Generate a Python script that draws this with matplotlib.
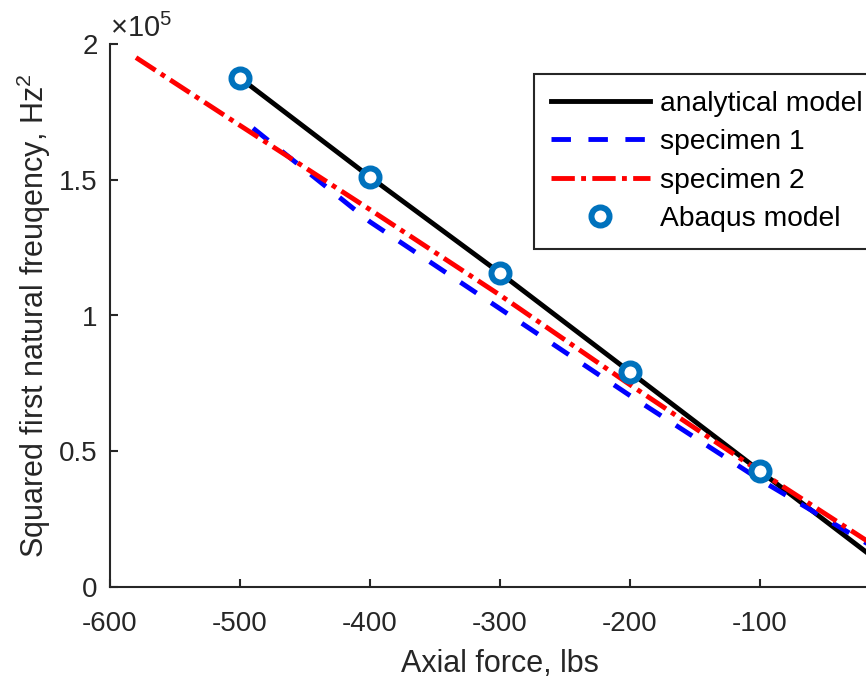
import matplotlib
matplotlib.use('Agg')
from matplotlib import pyplot as plt
from matplotlib.ticker import FuncFormatter

plt.rcParams['font.family'] = ['Liberation Sans', 'DejaVu Sans']
plt.rcParams['mathtext.fontset'] = 'custom'
plt.rcParams['mathtext.rm'] = 'Liberation Sans'
plt.rcParams['axes.unicode_minus'] = False

# analytical model and Abaqus points (Hz^2)
force_model = [-500, -400, -300, -200, -100, 0]
freq_model = [1.875e5, 1.510e5, 1.1565e5, 0.792e5, 0.427e5, 0.062e5]
force_abaqus = [-500, -400, -300, -200, -100]
freq_abaqus = [1.875e5, 1.510e5, 1.1565e5, 0.792e5, 0.427e5]

# specimen 1 (blue dashed)
force_s1 = [-490, -400, -300, -200, -100, 0]
freq_s1 = [1.69e5, 1.345e5, 1.025e5, 0.705e5, 0.395e5, 0.11e5]

# specimen 2 (red dash-dot)
force_s2 = [-580, -500, -400, -300, -200, -100, 0]
freq_s2 = [1.95e5, 1.70e5, 1.39e5, 1.075e5, 0.745e5, 0.425e5, 0.115e5]

xticks = [-600, -500, -400, -300, -200, -100]
yticks = [0, 0.5e5, 1e5, 1.5e5, 2e5]

gray = '#262626'

fig = plt.figure(figsize=(8.66, 6.81), dpi=100)
# axes runs past the right edge of the picture, like the reference crop
ax = fig.add_axes([110/866, 1 - 587/681, 780/866, (587 - 44)/681])

ax.plot(force_model, freq_model, color='black', lw=3.5, label='analytical model')
ax.plot(force_s1, freq_s1, color='blue', lw=3.5, dashes=(4.0, 3.6), label='specimen 1')
ax.plot(force_s2, freq_s2, color='red', lw=3.5, dashes=(4.8, 1.3, 1.0, 1.3), label='specimen 2')
ax.plot(force_abaqus, freq_abaqus, 'o', color='#0072BD', mfc='white', ms=13, mew=4.3,
        ls='none', label='Abaqus model')

ax.set_xlim(-600, 0)
ax.set_ylim(0, 2e5)
ax.set_xticks(xticks)
ax.set_yticks(yticks)
ax.yaxis.set_major_formatter(FuncFormatter(lambda v, p: '%g' % (v / 1e5)))
ax.text(0.0, 1.012, r'$\times10^5$', transform=ax.transAxes, fontsize=21,
        color=gray, ha='left', va='baseline')

for s in ['top', 'right']:
    ax.spines[s].set_visible(False)
for s in ['left', 'bottom']:
    ax.spines[s].set_color(gray)
    ax.spines[s].set_linewidth(1.5)

ax.tick_params(axis='x', direction='in', length=6, width=1.5, colors=gray, labelsize=20, pad=17)
ax.tick_params(axis='y', direction='in', length=6, width=1.5, colors=gray, labelsize=20, pad=9)

ax.set_xlabel('Axial force, lbs', fontsize=22, color=gray, labelpad=9)
ax.set_ylabel('Squared first natural freuqency, Hz$^2$', fontsize=22, color=gray)

leg = ax.legend(loc='upper right', bbox_to_anchor=(0.986, 0.945), fontsize=20.3,
                fancybox=False, edgecolor=gray, framealpha=1, handlelength=3.5,
                handletextpad=0.35, labelspacing=0.44, borderpad=0.6, borderaxespad=0)
leg.get_frame().set_linewidth(1.5)

plt.savefig('out.png', dpi=100)
